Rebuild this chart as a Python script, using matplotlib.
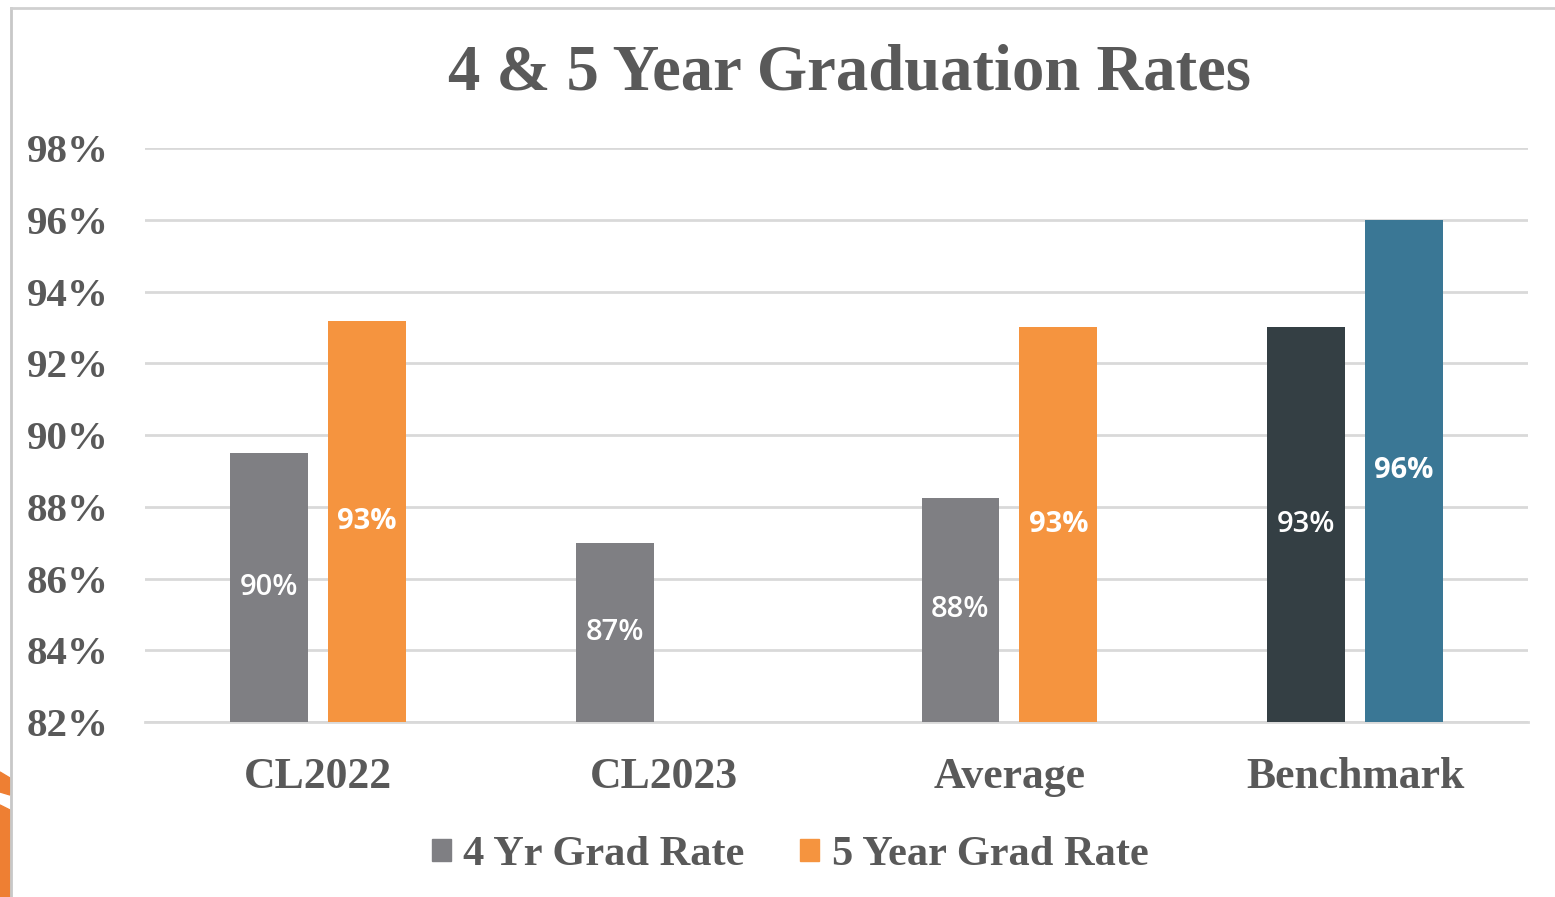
import matplotlib
matplotlib.use("Agg")
import matplotlib.pyplot as plt
import numpy as np
from matplotlib.patches import Polygon, Rectangle
from matplotlib.lines import Line2D

categories = ["CL2022", "CL2023", "Average", "Benchmark"]
four_year = [89.5, 87.0, 88.25, 93.0]
five_year = [93.17, np.nan, 93.0, 96.0]
series_names = ["4 Yr Grad Rate", "5 Year Grad Rate"]
yticks = [82, 84, 86, 88, 90, 92, 94, 96, 98]
title = "4 & 5 Year Graduation Rates"

four_colors = ["#7F7F83", "#7F7F83", "#7F7F83", "#343F44"]
five_colors = ["#F5943F", "#F5943F", "#F5943F", "#3A7795"]

W, H = 1555, 897
fig = plt.figure(figsize=(W / 100, H / 100), dpi=100)
fig.patch.set_facecolor("white")

ax = fig.add_axes([145 / W, 1 - 722 / H, (1528 - 145) / W, (722 - 148) / H])
x = np.arange(len(categories))
off = 0.1415
bw = 0.225
base = 82

for i in range(len(categories)):
    v = four_year[i]
    if not np.isnan(v):
        ax.bar(x[i] - off, v - base, bottom=base, width=bw, color=four_colors[i], zorder=3)
        ax.text(x[i] - off, (base + v) / 2, f"{round(v):.0f}%", ha="center", va="center",
                color="white", fontsize=21, family="Open Sans", fontweight="semibold", zorder=4)
    v = five_year[i]
    if not np.isnan(v):
        ax.bar(x[i] + off, v - base, bottom=base, width=bw, color=five_colors[i], zorder=3)
        ax.text(x[i] + off, (base + v) / 2, f"{round(v):.0f}%", ha="center", va="center",
                color="white", fontsize=21, family="Open Sans", fontweight="bold", zorder=4)

ax.set_xlim(-0.5, len(categories) - 0.5)
ax.set_ylim(yticks[0], yticks[-1])
ax.set_yticks(yticks)
ax.set_yticklabels([f"{t}%" for t in yticks])
ax.yaxis.grid(True, color="#D9D9D9", linewidth=2, zorder=0)
ax.set_axisbelow(True)
for s in ["top", "right", "left"]:
    ax.spines[s].set_visible(False)
ax.spines["bottom"].set_color("#D9D9D9")
ax.spines["bottom"].set_linewidth(2)
ax.tick_params(axis="both", length=0)
ax.tick_params(axis="y", pad=26)
ax.tick_params(axis="x", pad=25)
ax.set_xticks(x)
ax.set_xticklabels(categories)
for lab in ax.get_yticklabels():
    lab.set_fontsize(29.5)
for lab in ax.get_xticklabels():
    lab.set_fontsize(31.5)
for lab in ax.get_yticklabels() + ax.get_xticklabels():
    lab.set_family("Liberation Serif")
    lab.set_color("#595959")
    lab.set_fontweight("bold")

fig.text(850 / W, 1 - 74 / H, title, ha="center", va="center", family="Liberation Serif",
         fontsize=46.5, fontweight="bold", color="#595959")

handles = [Rectangle((0, 0), 1, 1, color=four_colors[0]), Rectangle((0, 0), 1, 1, color=five_colors[0])]
leg = fig.legend(handles, series_names, loc="center", bbox_to_anchor=(790 / W, 1 - 855 / H),
                 ncol=2, frameon=False, handlelength=0.45, handleheight=0.45, handletextpad=0.3,
                 columnspacing=1.3, prop={"family": "Liberation Serif", "size": 30.5, "weight": "bold"})
for t in leg.get_texts():
    t.set_color("#595959")

# frame of the slide chart
fig.add_artist(Line2D([11 / W, 11 / W], [0, 1 - 8 / H], color="#C8C8C8", lw=2, transform=fig.transFigure))
fig.add_artist(Line2D([11 / W, 1], [1 - 8 / H, 1 - 8 / H], color="#D0D0D0", lw=2, transform=fig.transFigure))
# orange decoration at bottom-left
fig.add_artist(Polygon([(0, 1 - 772 / H), (10 / W, 1 - 778 / H), (10 / W, 1 - 795 / H), (0, 1 - 792 / H)],
                       closed=True, color="#EE7F33", transform=fig.transFigure))
fig.add_artist(Polygon([(0, 1 - 805 / H), (10 / W, 1 - 810 / H), (10 / W, 0), (0, 0)],
                       closed=True, color="#EE7F33", transform=fig.transFigure))

fig.savefig("out.png", dpi=100)
